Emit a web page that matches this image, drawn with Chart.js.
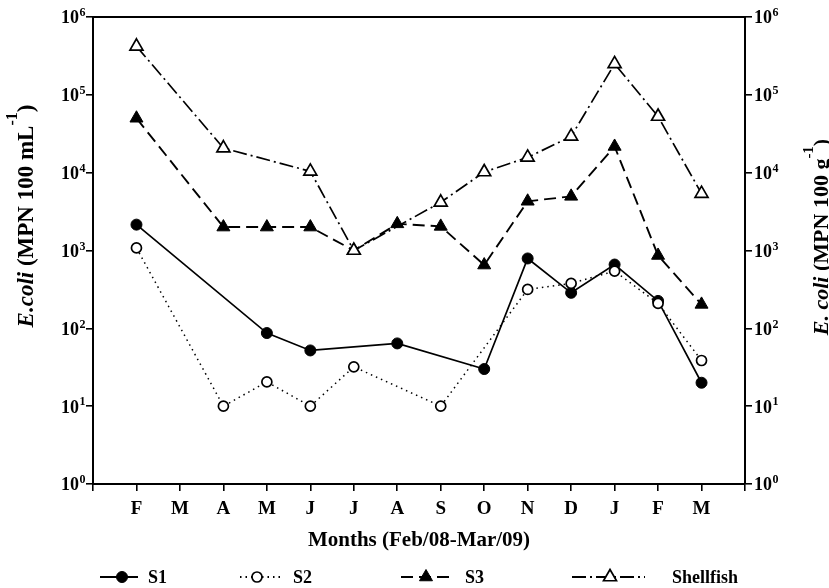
<!DOCTYPE html>
<html>
<head>
<meta charset="utf-8">
<script src="https://cdn.jsdelivr.net/npm/chart.js@4.4.1/dist/chart.umd.min.js"></script>
<style>
html,body{margin:0;padding:0;background:#fff;}
#wrap{width:829px;height:588px;position:relative;}
</style>
</head>
<body>
<div id="wrap"><canvas id="c" width="829" height="588"></canvas></div>
<script>
// ---- data ----
const months = ['F','M','A','M','J','J','A','S','O','N','D','J','F','M'];
const s1 = [2150, null, null, 87, 52, null, 64, null, 30, 790, 286, 660, 225, 20];
const s2 = [1080, null, 10, 20.5, 10, 32, null, 10, null, 316, 378, 543, 209, 38.6];
const s3 = [50000, null, 2000, 2000, 2000, 1000, 2200, 2040, 650, 4290, 4960, 21700, 863, 203];
const shellfish = [420000, null, 20700, null, 10400, 1000, null, 4160, 10200, 15700, 29200, 250000, 52700, 5380];
const decadeTicks = [1, 10, 100, 1000, 10000, 100000, 1000000];
const seriesNames = ['S1', 'S2', 'S3', 'Shellfish'];

const FONT = '"Liberation Serif", "Times New Roman", serif';
const toPts = arr => arr.map((v, i) => ({x: i + 1, y: v}));

const datasets = [
  {label: seriesNames[0], data: toPts(s1), yAxisID: 'y', order: 3,
   borderColor: '#000', backgroundColor: '#000', borderWidth: 1.7, borderDash: [],
   pointStyle: 'circle', pointRadius: 5.5, pointBackgroundColor: '#000', pointBorderColor: '#000', pointBorderWidth: 1},
  {label: seriesNames[1], data: toPts(s2), yAxisID: 'y', order: 2,
   borderColor: '#000', backgroundColor: '#fff', borderWidth: 1.5, borderDash: [1.5, 4],
   pointStyle: 'circle', pointRadius: 5, pointBackgroundColor: '#fff', pointBorderColor: '#000', pointBorderWidth: 1.7},
  {label: seriesNames[2], data: toPts(s3), yAxisID: 'y', order: 1,
   borderColor: '#000', backgroundColor: '#000', borderWidth: 1.9, borderDash: [12, 6],
   pointStyle: 'triangle', pointRadius: 7.5, pointBackgroundColor: '#000', pointBorderColor: '#000', pointBorderWidth: 1},
  {label: seriesNames[3], data: toPts(shellfish), yAxisID: 'y2', order: 0,
   borderColor: '#000', backgroundColor: '#fff', borderWidth: 1.7, borderDash: [14, 4, 2, 4],
   pointStyle: 'triangle', pointRadius: 7.5, pointBackgroundColor: '#fff', pointBorderColor: '#000', pointBorderWidth: 1.7}
];

function drawPow(ctx, x, y, exp, align, size) {
  ctx.font = 'bold ' + size + 'px ' + FONT;
  const bw = ctx.measureText('10').width;
  const es = Math.round(size * 0.66);
  ctx.font = 'bold ' + es + 'px ' + FONT;
  const ew = ctx.measureText(String(exp)).width;
  let x0 = align === 'right' ? x - bw - ew : x;
  ctx.textAlign = 'left';
  ctx.textBaseline = 'alphabetic';
  ctx.font = 'bold ' + size + 'px ' + FONT;
  ctx.fillText('10', x0, y + size * 0.36);
  ctx.font = 'bold ' + es + 'px ' + FONT;
  ctx.fillText(String(exp), x0 + bw + 0.5, y - size * 0.04);
}

function drawRotTitle(ctx, cx, cy, parts, size) {
  ctx.save();
  ctx.translate(cx, cy);
  ctx.rotate(-Math.PI / 2);
  let total = 0;
  const fonts = parts.map(p => {
    const s = p.sup ? Math.round(size * 0.7) : size;
    const f = (p.style === 'bi' ? 'italic bold ' : 'bold ') + s + 'px ' + FONT;
    ctx.font = f;
    const w = ctx.measureText(p.t).width;
    total += w;
    return {f, w};
  });
  let x = -total / 2;
  ctx.textBaseline = 'alphabetic';
  ctx.textAlign = 'left';
  parts.forEach((p, i) => {
    ctx.font = fonts[i].f;
    ctx.fillText(p.t, x, p.sup ? -size * 0.05 - size * 0.28 : size * 0.35);
    x += fonts[i].w;
  });
  ctx.restore();
}

const decor = {
  id: 'decor',
  afterDraw(chart) {
    const ctx = chart.ctx;
    const ca = chart.chartArea;
    const yl = chart.scales.y, yr = chart.scales.y2;
    ctx.save();
    ctx.fillStyle = '#000';
    ctx.strokeStyle = '#000';
    ctx.lineWidth = 2;
    ctx.beginPath();
    ctx.moveTo(ca.left - 1, ca.top);
    ctx.lineTo(ca.right + 1, ca.top);
    ctx.stroke();
    decadeTicks.forEach(v => {
      const e = Math.round(Math.log10(v));
      drawPow(ctx, 85, yl.getPixelForValue(v), e, 'right', 18);
      drawPow(ctx, 754, yr.getPixelForValue(v), e, 'left', 18);
    });
    drawRotTitle(ctx, 25, 216, [
      {t: 'E.coli', style: 'bi'}, {t: ' (MPN 100 mL', style: 'b'}, {t: '-1', style: 'b', sup: true}, {t: ')', style: 'b'}
    ], 23);
    drawRotTitle(ctx, 820, 237, [
      {t: 'E. coli', style: 'bi'}, {t: ' (MPN 100 g', style: 'b'}, {t: '-1', style: 'b', sup: true}, {t: ')', style: 'b'}
    ], 22);
    ctx.font = 'bold 21px ' + FONT;
    ctx.textAlign = 'center';
    ctx.textBaseline = 'middle';
    ctx.fillText('Months (Feb/08-Mar/09)', (ca.left + ca.right) / 2, 541);
    const lx = [[100, 138, 122, 148], [240, 280, 257, 293], [401, 450, 426, 465], [572, 645, 610, 672]];
    const ly = 577;
    chart.data.datasets.forEach((ds, i) => {
      const [a, b, m, t] = lx[i];
      ctx.save();
      ctx.lineWidth = ds.borderWidth + 0.3;
      ctx.setLineDash(ds.borderDash || []);
      ctx.beginPath();
      ctx.moveTo(a, ly);
      ctx.lineTo(b, ly);
      ctx.stroke();
      ctx.setLineDash([]);
      ctx.fillStyle = ds.pointBackgroundColor;
      ctx.strokeStyle = ds.pointBorderColor;
      ctx.lineWidth = ds.pointBorderWidth;
      Chart.helpers.drawPoint(ctx, {pointStyle: ds.pointStyle, radius: ds.pointRadius, rotation: 0, borderWidth: ds.pointBorderWidth}, m, ly);
      ctx.restore();
      ctx.font = 'bold 18px ' + FONT;
      ctx.textAlign = 'left';
      ctx.textBaseline = 'middle';
      ctx.fillStyle = '#000';
      ctx.fillText(ds.label, t, ly + 1);
    });
    ctx.restore();
  }
};

const axisGrid = {display: true, drawOnChartArea: false, drawTicks: true, tickLength: 7, color: '#000', lineWidth: 1.6};
const axisBorder = {display: true, color: '#000', width: 2};

new Chart(document.getElementById('c'), {
  type: 'line',
  data: {datasets},
  options: {
    responsive: false,
    animation: false,
    devicePixelRatio: 1,
    layout: {padding: {top: 17, left: 0, right: 0, bottom: 0}},
    plugins: {legend: {display: false}, tooltip: {enabled: false}},
    spanGaps: true,
    elements: {line: {tension: 0}},
    scales: {
      x: {
        type: 'linear', position: 'bottom', min: 0, max: 15,
        grid: axisGrid, border: axisBorder,
        afterBuildTicks: s => { s.ticks = Array.from({length: 16}, (_, i) => ({value: i})); },
        ticks: {
          autoSkip: false, maxRotation: 0, padding: 7, color: '#000',
          font: {family: FONT, size: 19, weight: 'bold'},
          callback: v => (v >= 1 && v <= months.length) ? months[v - 1] : ''
        },
        afterFit: s => { s.height = 104; }
      },
      y: {
        type: 'logarithmic', position: 'left', min: 1, max: 1000000,
        grid: axisGrid, border: axisBorder,
        afterBuildTicks: s => { s.ticks = decadeTicks.map(v => ({value: v})); },
        ticks: {display: false},
        afterFit: s => { s.width = 93; }
      },
      y2: {
        type: 'logarithmic', position: 'right', min: 1, max: 1000000,
        grid: axisGrid, border: axisBorder,
        afterBuildTicks: s => { s.ticks = decadeTicks.map(v => ({value: v})); },
        ticks: {display: false},
        afterFit: s => { s.width = 84; }
      }
    }
  },
  plugins: [decor]
});
</script>
</body>
</html>
